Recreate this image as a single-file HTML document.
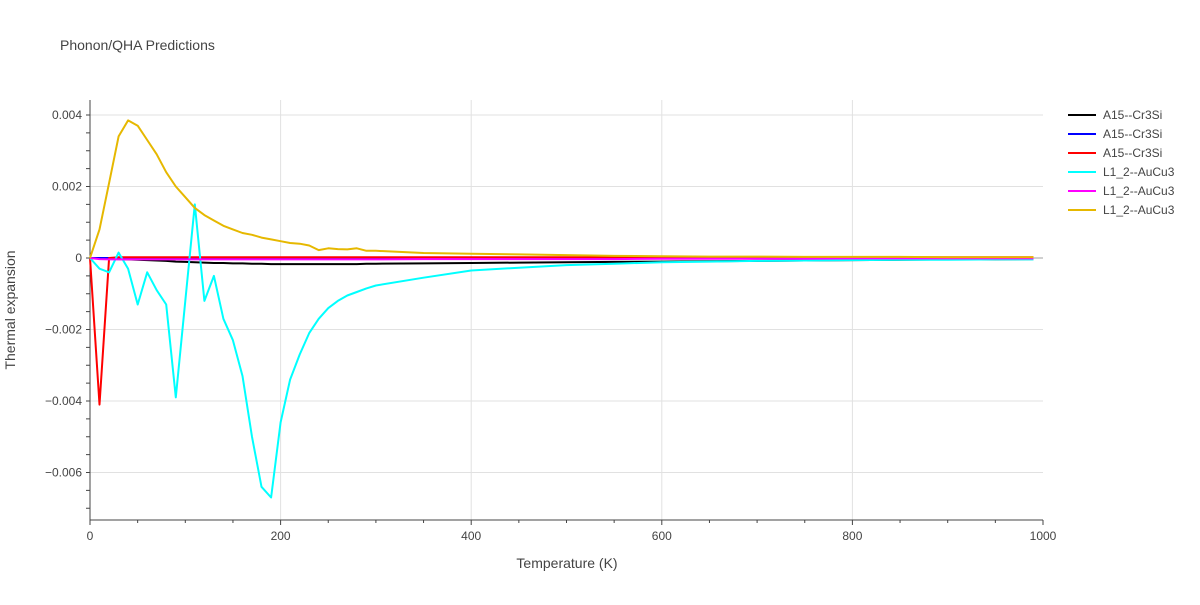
<!DOCTYPE html>
<html><head><meta charset="utf-8"><style>
body{margin:0;background:#fff;font-family:"Liberation Sans",sans-serif}
svg text{font-family:"Liberation Sans",sans-serif}
</style></head><body>
<svg id="chart" width="1200" height="600" xmlns="http://www.w3.org/2000/svg">
<text x="60" y="50" font-size="14" fill="#444">Phonon/QHA Predictions</text>
<g id="grid"></g>
<g id="axes"></g>
<g id="series"></g>
<g id="legend"></g>
<text x="567" y="568" font-size="14" fill="#444" text-anchor="middle">Temperature (K)</text>
<text transform="translate(15,310) rotate(-90)" font-size="14" fill="#444" text-anchor="middle">Thermal expansion</text>
</svg>
<script>
const temps=[0,10,20,30,40,50,60,70,80,90,100,110,120,130,140,150,160,170,180,190,200,210,220,230,240,250,260,270,280,290,300,350,400,450,500,550,600,650,700,750,800,850,900,950,990];
const blackVals=[0,-0.00001,-0.00002,-0.00003,-0.00004,-0.00005,-0.00006,-0.00007,-0.00008,-0.0001,-0.00011,-0.00012,-0.00013,-0.00014,-0.00014,-0.00015,-0.00015,-0.00016,-0.00016,-0.00017,-0.00017,-0.00017,-0.00017,-0.00017,-0.00017,-0.00017,-0.00017,-0.00017,-0.00017,-0.00016,-0.00016,-0.00015,-0.00014,-0.00013,-0.00012,-0.00011,-0.0001,-0.00009,-0.00008,-0.00007,-0.00006,-0.00005,-0.00004,-0.00004,-0.00003];
const blueVals=[0,0,0,0,0,0,0,0,0,0,0,0,0,0,0,0,0,0,0,0,0,0,0,0,0,0,0,0,0,0,0,0,0,0,0,0,0,0,0,0,0,0,0,0,0];
const redVals=[0,-0.0041,0,0.00002,0.00002,0.00002,0.00002,0.00002,0.00002,0.00002,0.00002,0.00002,0.00002,0.00002,0.00002,0.00002,0.00002,0.00002,0.00002,0.00002,0.00002,0.00002,0.00002,0.00002,0.00002,0.00002,0.00002,0.00002,0.00002,0.00002,0.00002,0.00002,0.00002,0.00002,0.00002,0.00002,0.00002,0.00002,0.00002,0.00002,0.00002,0.00002,0.00002,0.00002,0.00002];
const cyanVals=[0,-0.0003,-0.0004,0.00015,-0.0003,-0.0013,-0.0004,-0.0009,-0.0013,-0.0039,-0.0012,0.0015,-0.0012,-0.0005,-0.0017,-0.0023,-0.0033,-0.005,-0.0064,-0.0067,-0.0046,-0.0034,-0.0027,-0.0021,-0.0017,-0.0014,-0.0012,-0.00105,-0.00095,-0.00085,-0.00077,-0.00055,-0.00035,-0.00027,-0.0002,-0.00016,-0.00012,-0.0001,-0.00008,-0.00007,-0.00006,-0.00005,-0.00005,-0.00004,-0.00004];
const magentaVals=[0,-0.00003,-0.00004,-0.00004,-0.00004,-0.00004,-0.00004,-0.00004,-0.00004,-0.00004,-0.00004,-0.00004,-0.00004,-0.00004,-0.00004,-0.00004,-0.00004,-0.00004,-0.00004,-0.00004,-0.00004,-0.00004,-0.00004,-0.00004,-0.00004,-0.00004,-0.00004,-0.00004,-0.00004,-0.00004,-0.00004,-0.00003,-0.00003,-0.00003,-0.00003,-0.00003,-0.00002,-0.00002,-0.00002,-0.00002,-0.00001,-0.00001,-0.00001,-0.00001,-0.00001];
const yellowVals=[0,0.0008,0.0021,0.0034,0.00385,0.0037,0.0033,0.0029,0.0024,0.002,0.0017,0.0014,0.0012,0.00105,0.0009,0.0008,0.0007,0.00065,0.00057,0.00052,0.00047,0.00042,0.0004,0.00035,0.00022,0.00027,0.00025,0.00024,0.00027,0.0002,0.0002,0.00014,0.00012,0.0001,0.00008,0.00006,0.00005,0.00004,0.00004,0.00003,0.00003,0.00003,0.00002,0.00002,0.00002];
const xTicks=[0,200,400,600,800,1000];
const yTicks=[-0.006,-0.004,-0.002,0,0.002,0.004];
const yTickLabels=["−0.006","−0.004","−0.002","0","0.002","0.004"];
const legendLabels=["A15--Cr3Si","A15--Cr3Si","A15--Cr3Si","L1_2--AuCu3","L1_2--AuCu3","L1_2--AuCu3"];

const NS="http://www.w3.org/2000/svg";
const X0=90,X1=1043,YT=100,YB=520;
const xs=v=>X0+(v/1000)*(X1-X0);
const ys=v=>258-v/0.002*71.5;
function mk(tag,attrs,parent){const e=document.createElementNS(NS,tag);for(const k in attrs)e.setAttribute(k,attrs[k]);parent.appendChild(e);return e;}
const grid=document.getElementById('grid'),axes=document.getElementById('axes'),ser=document.getElementById('series'),leg=document.getElementById('legend');
xTicks.forEach(t=>{if(t>0&&t<1000){const l=mk('line',{x1:xs(t),x2:xs(t),y1:YT,y2:YB,stroke:'#e1e1e1'},grid);

}
const tx=mk('text',{x:xs(t),y:YB+20,'font-size':12,fill:'#444','text-anchor':'middle'},axes);tx.textContent=t;

});
yTicks.forEach((t,i)=>{const l=mk('line',{x1:X0,x2:X1,y1:ys(t),y2:ys(t),stroke:t===0?'#d0d0d0':'#e1e1e1','stroke-width':t===0?2:1},grid);


const tx=mk('text',{x:X0-8,y:ys(t)+4,'font-size':12,fill:'#444','text-anchor':'end'},axes);tx.textContent=yTickLabels[i];

});
for(let v=-0.007;v<=0.0041;v+=0.0005){mk('line',{x1:X0-4,x2:X0,y1:ys(v),y2:ys(v),stroke:'#444'},axes);}
for(let t=0;t<=1000;t+=50){mk('line',{x1:xs(t),x2:xs(t),y1:YB,y2:YB+(t%200===0?5:3),stroke:'#444'},axes);}
const ya=mk('line',{x1:X0,x2:X0,y1:YT,y2:YB,stroke:'#444'},axes);


const xa=mk('line',{x1:X0,x2:X1,y1:YB,y2:YB,stroke:'#444'},axes);


const all=[[blackVals,'#000'],[blueVals,'#0000ff'],[redVals,'#ff0000'],[cyanVals,'#00ffff'],[magentaVals,'#ff00ff'],[yellowVals,'#e6b800']];
all.forEach((s,i)=>{const d=temps.map((t,j)=>(j?'L':'M')+xs(t).toFixed(1)+','+ys(s[0][j]).toFixed(1)).join('');
const p=mk('path',{d:d,fill:'none',stroke:s[1],'stroke-width':2,'stroke-linejoin':'round'},ser);


const y=115+i*19;
const g=mk('g',{},leg);


mk('line',{x1:1068,x2:1096,y1:y,y2:y,stroke:s[1],'stroke-width':2},g);
const tx=mk('text',{x:1103,y:y+4,'font-size':12,fill:'#444'},g);tx.textContent=legendLabels[i];});
</script>
</body></html>
